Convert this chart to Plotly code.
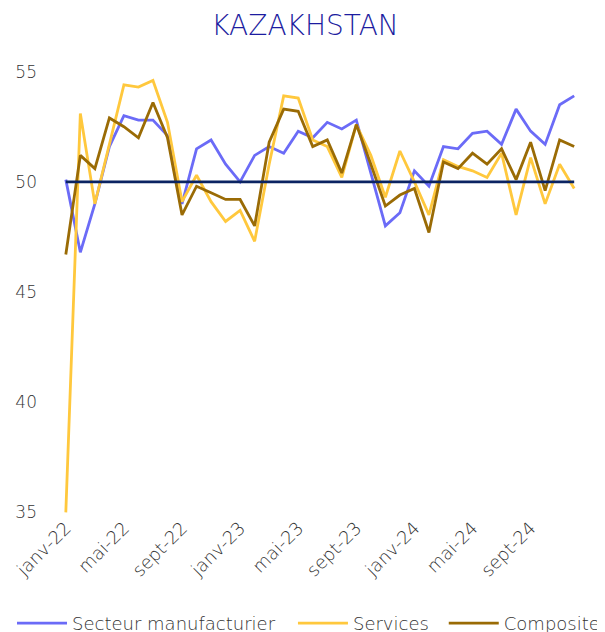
import plotly.graph_objects as go

# Monthly PMI, Kazakhstan, janv-22 .. déc-24
mois = ["janv", "févr", "mars", "avr", "mai", "juin",
        "juil", "août", "sept", "oct", "nov", "déc"]
dates = [f"{m}-{a}" for a in ("22", "23", "24") for m in mois]

manufacturier = [50.1, 46.8, 49.0, 51.6, 53.0, 52.8, 52.8, 52.1, 49.0, 51.5, 51.9, 50.8,
                 50.0, 51.2, 51.6, 51.3, 52.3, 52.0, 52.7, 52.4, 52.8, 50.4, 48.0, 48.6,
                 50.5, 49.8, 51.6, 51.5, 52.2, 52.3, 51.7, 53.3, 52.3, 51.7, 53.5, 53.9]
services = [35.0, 53.1, 49.0, 51.7, 54.4, 54.3, 54.6, 52.7, 49.1, 50.3, 49.1, 48.2,
            48.7, 47.3, 50.8, 53.9, 53.8, 51.9, 51.6, 50.2, 52.6, 51.2, 49.3, 51.4,
            50.0, 48.5, 51.0, 50.7, 50.5, 50.2, 51.3, 48.5, 51.1, 49.0, 50.8, 49.7]
composite = [46.7, 51.2, 50.6, 52.9, 52.5, 52.0, 53.6, 52.0, 48.5, 49.8, 49.5, 49.2,
             49.2, 48.0, 51.8, 53.3, 53.2, 51.6, 51.9, 50.4, 52.6, 50.8, 48.9, 49.4,
             49.7, 47.7, 50.9, 50.6, 51.3, 50.8, 51.5, 50.1, 51.8, 49.6, 51.9, 51.6]
seuil = [50] * len(dates)

font = "'DejaVu Sans', sans-serif"
txt = "#333333"

fig = go.Figure()
fig.add_trace(go.Scatter(x=dates, y=manufacturier, mode="lines", name="Secteur manufacturier",
                         line=dict(color="#6B6BF7", width=2.8), legend="legend"))
fig.add_trace(go.Scatter(x=dates, y=services, mode="lines", name="Services",
                         line=dict(color="#FFC83D", width=2.8), legend="legend2"))
fig.add_trace(go.Scatter(x=dates, y=composite, mode="lines", name="Composite",
                         line=dict(color="#9A6B05", width=2.8), legend="legend3"))
fig.add_trace(go.Scatter(x=dates, y=seuil, mode="lines", showlegend=False, hoverinfo="skip",
                         line=dict(color="#0B2462", width=2.8)))

leg = dict(orientation="h", xanchor="left", y=-0.25, yanchor="middle",
           font=dict(size=18, color=txt), itemwidth=50, bgcolor="rgba(0,0,0,0)")

# page body has an 8px margin, so the figure is 8px smaller than the window
fig.update_layout(
    width=597, height=624,
    margin=dict(l=52, r=25, t=63, b=119, autoexpand=False),
    paper_bgcolor="white", plot_bgcolor="white",
    font=dict(family=font, color=txt, weight=300),
    title=dict(text="KAZAKHSTAN", x=0.4975, xanchor="center", y=0.973, yanchor="middle",
               font=dict(family=font, size=28, color="#1C1CA0", weight=300)),
    xaxis=dict(type="category", range=[-0.4, 35.4], tickangle=-45,
               tickvals=dates[::4], ticktext=dates[::4],
               showgrid=False, showline=False, zeroline=False,
               tickfont=dict(size=18, color=txt), ticklabelstandoff=0),
    yaxis=dict(range=[34.97, 55.03], tickvals=[35, 40, 45, 50, 55],
               showgrid=False, showline=False, zeroline=False,
               tickfont=dict(size=17, color=txt), ticklabelstandoff=22),
    legend=dict(leg, x=-0.0923),
    legend2=dict(leg, x=0.448),
    legend3=dict(leg, x=0.738),
)

fig.write_html("out.html")
